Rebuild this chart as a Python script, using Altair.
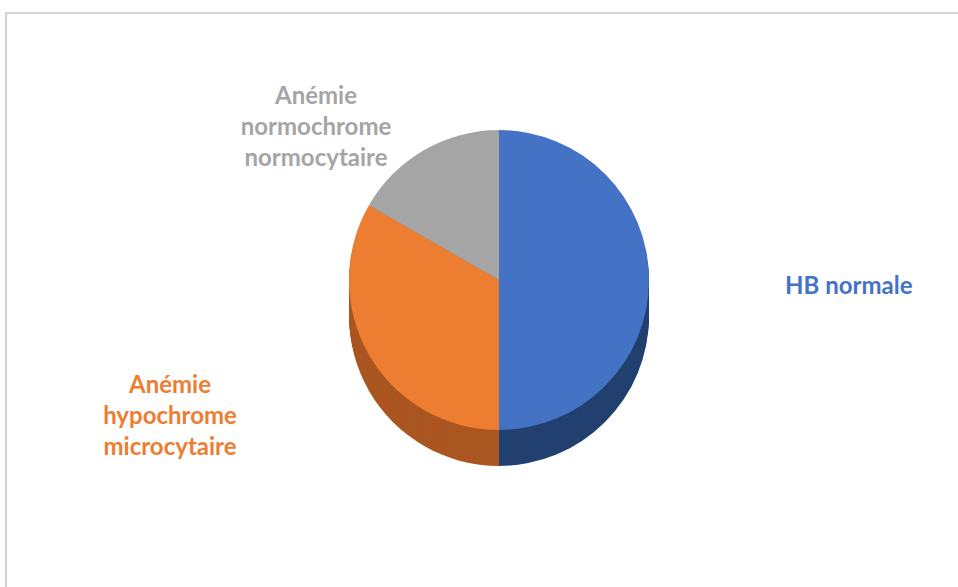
import altair as alt
import pandas as pd

# ---- data ----
categories = ["HB normale", "Anémie hypochrome microcytaire", "Anémie normochrome normocytaire"]
values = [50.0, 33.3, 16.7]
order = [1, 2, 3]
label_texts = ["HB normale", "Anémie\nhypochrome\nmicrocytaire", "Anémie\nnormochrome\nnormocytaire"]

top_colors = ["#4472C4", "#ED7D31", "#A5A5A5"]
side_colors = ["#22406F", "#AA5620", "#7A7A7A"]
text_colors = ["#4472C4", "#ED7D31", "#A5A5A5"]

df = pd.DataFrame({"cat": categories, "val": values, "ord": order, "label": label_texts})

W, H = 958, 587
CX, CY, R, DEPTH = 499, 280, 150, 36
FONT = "Lato"

base = alt.Chart(df).encode(
    theta=alt.Theta("val:Q", stack=True),
    order=alt.Order("ord:Q"),
)

layers = []
# frame lines
layers.append(alt.Chart(df).mark_rule(color="#D4D4D4", strokeWidth=2).encode(
    x=alt.value(5), x2=alt.value(W), y=alt.value(13)))
layers.append(alt.Chart(df).mark_rule(color="#D4D4D4", strokeWidth=2).encode(
    x=alt.value(6), y=alt.value(12), y2=alt.value(H)))

# side (depth) of the pie
for d in range(DEPTH, 0, -2):
    layers.append(base.mark_arc(radius=R).encode(
        color=alt.Color("cat:N", scale=alt.Scale(domain=categories, range=side_colors), legend=None),
        x=alt.value(CX), y=alt.value(CY + d)))

# top face
layers.append(base.mark_arc(radius=R).encode(
    color=alt.Color("cat:N", scale=alt.Scale(domain=categories, range=top_colors), legend=None),
    x=alt.value(CX), y=alt.value(CY)))

# labels
label_pos = [(785, 287, "left"), (170, 386, "center"), (316, 97, "center")]
for i, (lx, ly, al) in enumerate(label_pos):
    layers.append(alt.Chart(df).transform_filter(alt.datum.cat == categories[i]).mark_text(
        font=FONT, fontSize=24, fontWeight="bold", color=text_colors[i], align=al,
        baseline="middle", lineBreak="\n", lineHeight=31
    ).encode(text="label:N", x=alt.value(lx), y=alt.value(ly)))

chart = alt.layer(*layers).resolve_scale(color="independent").properties(
    width=W, height=H, padding=0,
    autosize=alt.AutoSizeParams(type="none"),
    background="white",
).configure_view(stroke=None)

chart.save("out.html", embed_options={"renderer": "svg", "actions": False})
